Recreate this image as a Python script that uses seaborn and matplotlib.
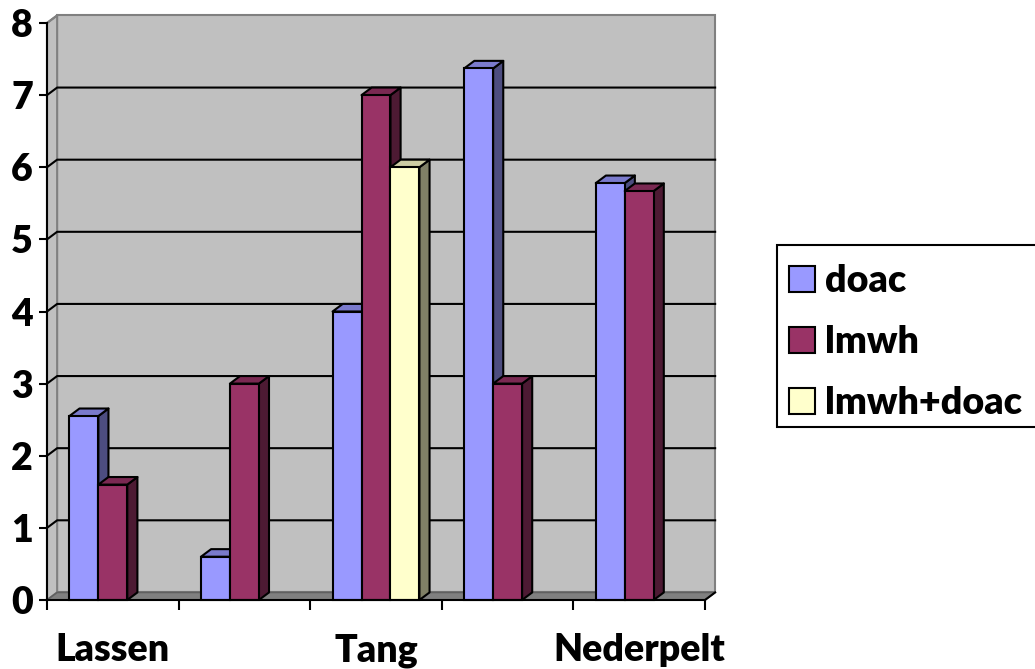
import matplotlib
matplotlib.use("Agg")
import matplotlib.pyplot as plt
import pandas as pd
import seaborn as sns
from matplotlib.patches import Polygon, Patch, Rectangle
from matplotlib.lines import Line2D

# ---- data ----
sites = ["Lassen", "Site 2", "Tang", "Site 4", "Nederpelt"]
tick_labels = ["Lassen", "", "Tang", "", "Nederpelt"]
series = ["doac", "lmwh", "lmwh+doac"]
doac = [2.55, 0.6, 4.0, 7.37, 5.78]
lmwh = [1.6, 3.0, 7.0, 3.0, 5.67]
lmwh_doac = [None, None, 6.0, None, None]
y_ticks = [0, 1, 2, 3, 4, 5, 6, 7, 8]

front_colors = {"doac": "#9999ff", "lmwh": "#993366", "lmwh+doac": "#ffffcc"}
top_colors = {"#9999ff": "#7a7acc", "#993366": "#7a2952", "#ffffcc": "#cccca3"}
side_colors = {"#9999ff": "#4d4d80", "#993366": "#4d1a33", "#ffffcc": "#808066"}

rows = []
for name, vals in zip(series, [doac, lmwh, lmwh_doac]):
    for site, v in zip(sites, vals):
        if v is not None:
            rows.append({"site": site, "series": name, "value": v})
df = pd.DataFrame(rows)

FONT = "Lato"
FS = 27
WEIGHT = "heavy"
W, H = 1035, 669

fig = plt.figure(figsize=(W / 100, H / 100), dpi=100)
ax = fig.add_axes([47 / W, 1 - 600 / H, 658 / W, 577 / H])
ax.patch.set_visible(False)

sns.barplot(data=df, x="site", y="value", hue="series", order=sites,
            hue_order=series, palette=front_colors, width=0.66,
            saturation=1, edgecolor="black", linewidth=1.5,
            errorbar=None, legend=False, ax=ax)

ax.set_xlim(-0.5, 4.5)
ax.set_ylim(0, 8)

# depth of the 3-D effect in data units
dx, dy = 0.077, 0.105

# walls and floor
back = Rectangle((-0.5 + dx, dy), 5, 8, facecolor="#c0c0c0",
                 edgecolor="#808080", lw=1.5, zorder=0.5, clip_on=False)
ax.add_patch(back)
side = Polygon([(-0.5, 0), (-0.5 + dx, dy), (-0.5 + dx, 8 + dy), (-0.5, 8)],
               closed=True, facecolor="#c0c0c0", edgecolor="#808080",
               lw=1.5, zorder=0.6, clip_on=False)
ax.add_patch(side)
floor = Polygon([(-0.5, 0), (4.5, 0), (4.5 + dx, dy), (-0.5 + dx, dy)],
                closed=True, facecolor="#808080", edgecolor="#606060",
                lw=1.2, zorder=0.7, clip_on=False)
ax.add_patch(floor)
ax.add_line(Line2D([4.5, 4.5 + dx], [0, dy], color="black", lw=1.5,
                   zorder=0.8, clip_on=False))

for yv in y_ticks[1:-1]:
    ax.add_line(Line2D([-0.5, -0.5 + dx, 4.5 + dx], [yv, yv + dy, yv + dy],
                       color="black", lw=1.5, zorder=0.9, clip_on=False))
ax.add_line(Line2D([-0.5, -0.5 + dx], [8, 8 + dy], color="#808080", lw=1.5,
                   zorder=0.9, clip_on=False))

# side and top faces for each bar, painted left to right
bars = [p for p in ax.patches if isinstance(p, Rectangle) and p is not back
        and p.get_height() > 0 and p.get_width() < 1]
bars.sort(key=lambda p: p.get_x())
for i, p in enumerate(bars):
    x0, w, h = p.get_x(), p.get_width(), p.get_height()
    x1 = x0 + w
    fc = matplotlib.colors.to_hex(p.get_facecolor())
    z = 3 + i * 0.01
    p.set_zorder(z + 0.005)
    p.set_clip_on(False)
    top = Polygon([(x0, h), (x1, h), (x1 + dx, h + dy), (x0 + dx, h + dy)],
                  closed=True, facecolor=top_colors[fc], edgecolor="black",
                  lw=1.5, zorder=z, clip_on=False, joinstyle="round")
    sd = Polygon([(x1, 0), (x1 + dx, dy), (x1 + dx, h + dy), (x1, h)],
                 closed=True, facecolor=side_colors[fc], edgecolor="black",
                 lw=1.5, zorder=z, clip_on=False, joinstyle="round")
    ax.add_patch(sd)
    ax.add_patch(top)

# axes, ticks and labels
for s in ["top", "right"]:
    ax.spines[s].set_visible(False)
for s in ["left", "bottom"]:
    ax.spines[s].set_linewidth(1.5)
    ax.spines[s].set_color("black")
    ax.spines[s].set_zorder(10)

ax.set_yticks(y_ticks)
ax.set_yticklabels([str(t) for t in y_ticks], fontfamily=FONT,
                   fontweight=WEIGHT, fontsize=FS)
ax.tick_params(axis="y", direction="out", length=6, width=1.5, pad=4)

ax.set_xticks(range(len(sites)))
ax.set_xticklabels(tick_labels, fontfamily=FONT, fontweight=WEIGHT,
                   fontsize=FS)
ax.set_xticks([i - 0.5 for i in range(len(sites) + 1)], minor=True)
ax.tick_params(axis="x", which="major", length=0, pad=24)
ax.tick_params(axis="x", which="minor", direction="out", length=7, width=1.5)
ax.set_xlabel("")
ax.set_ylabel("")
ax.grid(False)

# legend: frame box runs off the right edge of the figure
fig.patches.append(Rectangle((777 / W, 1 - 427 / H), 280 / W, 182 / H,
                             transform=fig.transFigure, facecolor="white",
                             edgecolor="black", lw=1.5, zorder=1))
handles = [Patch(facecolor=front_colors[s], edgecolor="black", lw=1.5)
           for s in series]
leg = fig.legend(handles, series, loc="upper left",
                 bbox_to_anchor=(789 / W, 1 - 264 / H),
                 frameon=False, handlelength=0.7, handleheight=0.7,
                 handletextpad=0.25, labelspacing=0.72, borderpad=0,
                 borderaxespad=0,
                 prop={"family": FONT, "weight": WEIGHT, "size": FS})
leg.set_zorder(2)

fig.savefig("out.png", dpi=100, facecolor="white")
